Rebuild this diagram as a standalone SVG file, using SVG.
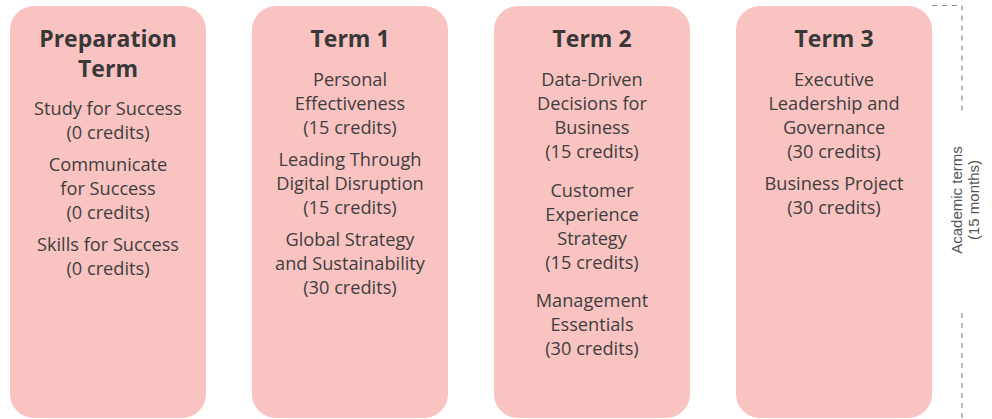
<svg xmlns="http://www.w3.org/2000/svg" width="992" height="419" viewBox="0 0 992 419">
<style>
.box{fill:#F9C3C1;}
.t{font-family:"Open Sans","Liberation Sans",sans-serif;font-size:18.2px;fill:#3e3e3e;text-anchor:middle;}
.h{font-family:"Open Sans","Liberation Sans",sans-serif;font-size:23px;font-weight:bold;fill:#383838;text-anchor:middle;}
.side{font-family:"Liberation Sans",Arial,sans-serif;font-size:15px;fill:#555;text-anchor:middle;}
.dash{fill:none;stroke:#8f8f8f;stroke-width:1.2;stroke-dasharray:5 5;}
</style>
<rect width="992" height="419" fill="#fff"/>
<g id="prep">
<rect class="box" x="10" y="6" width="196" height="412" rx="24"/>
<text class="h" x="108" y="47">Preparation</text>
<text class="h" x="108" y="77">Term</text>
<text class="t" x="108" y="115">Study for Success</text>
<text class="t" x="108" y="139">(0 credits)</text>
<text class="t" x="108" y="171">Communicate</text>
<text class="t" x="108" y="195">for Success</text>
<text class="t" x="108" y="219">(0 credits)</text>
<text class="t" x="108" y="251">Skills for Success</text>
<text class="t" x="108" y="275">(0 credits)</text>
</g>
<g id="term1">
<rect class="box" x="252" y="6" width="196" height="412" rx="24"/>
<text class="h" x="350" y="47">Term 1</text>
<text class="t" x="350" y="86">Personal</text>
<text class="t" x="350" y="110">Effectiveness</text>
<text class="t" x="350" y="134">(15 credits)</text>
<text class="t" x="350" y="166">Leading Through</text>
<text class="t" x="350" y="190">Digital Disruption</text>
<text class="t" x="350" y="214">(15 credits)</text>
<text class="t" x="350" y="246">Global Strategy</text>
<text class="t" x="350" y="270">and Sustainability</text>
<text class="t" x="350" y="294">(30 credits)</text>
</g>
<g id="term2">
<rect class="box" x="494" y="6" width="196" height="412" rx="24"/>
<text class="h" x="592" y="47">Term 2</text>
<text class="t" x="592" y="86">Data-Driven</text>
<text class="t" x="592" y="110">Decisions for</text>
<text class="t" x="592" y="134">Business</text>
<text class="t" x="592" y="158">(15 credits)</text>
<text class="t" x="592" y="197">Customer</text>
<text class="t" x="592" y="221">Experience</text>
<text class="t" x="592" y="245">Strategy</text>
<text class="t" x="592" y="269">(15 credits)</text>
<text class="t" x="592" y="307">Management</text>
<text class="t" x="592" y="331">Essentials</text>
<text class="t" x="592" y="355">(30 credits)</text>
</g>
<g id="term3">
<rect class="box" x="736" y="6" width="196" height="412" rx="24"/>
<text class="h" x="834" y="47">Term 3</text>
<text class="t" x="834" y="86">Executive</text>
<text class="t" x="834" y="110">Leadership and</text>
<text class="t" x="834" y="134">Governance</text>
<text class="t" x="834" y="158">(30 credits)</text>
<text class="t" x="834" y="190">Business Project</text>
<text class="t" x="834" y="214">(30 credits)</text>
</g>
<g id="connectors">
<path class="dash" d="M932 5.5 H962 V112"/>
<path class="dash" d="M962 313 V419"/>
</g>
<g id="academic-terms">
<text class="side" transform="translate(962,200) rotate(-90)">Academic terms</text>
<text class="side" transform="translate(979,200) rotate(-90)">(15 months)</text>
</g>
</svg>
